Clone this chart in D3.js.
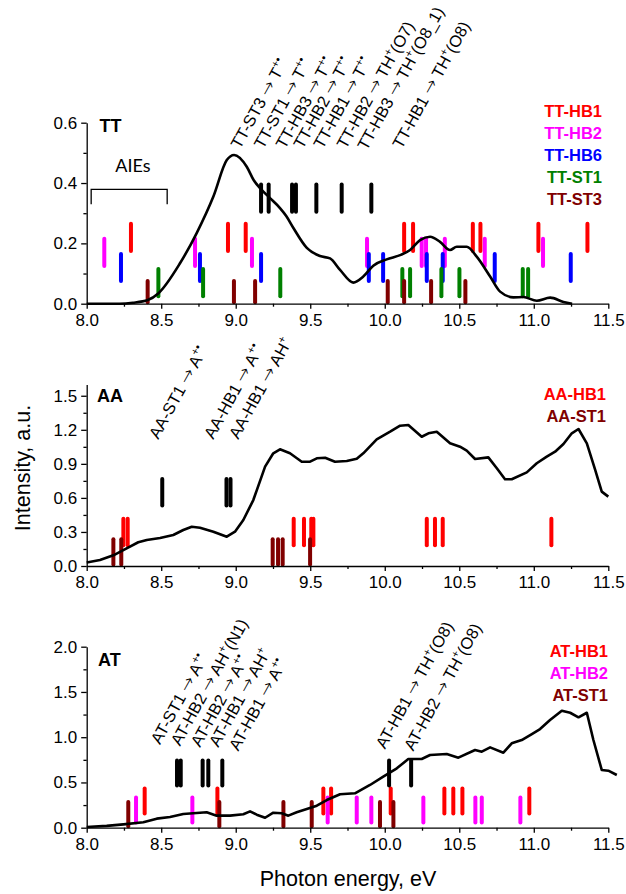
<!DOCTYPE html>
<html><head><meta charset="utf-8">
<script src="https://cdn.jsdelivr.net/npm/d3@7"></script>
<style>body{margin:0;background:#fff}svg{display:block}</style>
</head><body>
<svg id="chart" width="626" height="894"></svg>
<script>
// ---------------- DATA ----------------
const xMajorTicks = [8.0, 8.5, 9.0, 9.5, 10.0, 10.5, 11.0, 11.5];
const xMinorTicks = [8.25, 8.75, 9.25, 9.75, 10.25, 10.75, 11.25];

// TT panel
const ttCurveE = [8.0, 8.22, 8.31, 8.41, 8.48, 8.626, 8.738, 8.85, 8.94, 8.989, 9.074, 9.12, 9.163, 9.23, 9.297, 9.34, 9.387, 9.477, 9.566, 9.633, 9.70, 9.789, 9.856, 9.923, 10.013, 10.103, 10.17, 10.237, 10.304, 10.371, 10.438, 10.483, 10.55, 10.617, 10.707, 10.774, 10.863, 10.93, 11.02, 11.11, 11.199, 11.257];
const ttCurveI = [0.0, 0.0, 0.003, 0.012, 0.034, 0.134, 0.234, 0.355, 0.476, 0.493, 0.454, 0.41, 0.383, 0.35, 0.317, 0.29, 0.251, 0.185, 0.158, 0.150, 0.112, 0.07, 0.09, 0.126, 0.147, 0.161, 0.178, 0.211, 0.222, 0.205, 0.178, 0.189, 0.189, 0.156, 0.09, 0.04, 0.021, 0.022, 0.01, 0.02, 0.006, 0.0];
const ttHB1 = [8.297, 8.948, 9.067, 10.130, 10.190, 10.591, 10.642, 11.031, 11.360];
const ttHB2 = [8.118, 8.727, 9.109, 9.881, 10.248, 10.277, 10.403, 10.671, 11.062];
const ttHB6 = [8.230, 8.760, 9.170, 9.893, 9.989, 10.282, 10.389, 10.738, 11.248];
const ttST1 = [8.481, 8.781, 9.299, 10.118, 10.170, 10.380, 10.501, 10.926, 10.962];
const ttST3 = [8.409, 8.988, 9.130, 10.020, 10.130, 10.311, 10.541];
const ttIE  = [9.170, 9.221, 9.378, 9.404, 9.541, 9.711, 9.910];
const ttLabels = ["TT-ST3 → T^{+•}", "TT-ST1 → T^{+•}", "TT-HB3 → T^{+•}", "TT-HB2 → T^{+•}", "TT-HB1 → T^{+•}", "TT-HB2 → TH^{+}(O7)", "TT-HB3 → TH^{+}(O8_1)", "TT-HB1 → TH^{+}(O8)"];
const ttLabelE = [9.029, 9.185, 9.331, 9.45, 9.584, 9.74, 9.879, 10.114];
const ttLabelI = [0.51, 0.51, 0.51, 0.51, 0.51, 0.51, 0.505, 0.51];

// AA panel
const aaCurveE = [8.0, 8.089, 8.179, 8.268, 8.346, 8.403, 8.492, 8.581, 8.648, 8.705, 8.76, 8.85, 8.94, 8.995, 9.051, 9.118, 9.197, 9.252, 9.297, 9.364, 9.443, 9.499, 9.544, 9.60, 9.666, 9.745, 9.812, 9.856, 9.946, 10.036, 10.103, 10.158, 10.248, 10.293, 10.349, 10.438, 10.505, 10.55, 10.606, 10.695, 10.752, 10.807, 10.852, 10.953, 11.02, 11.087, 11.143, 11.199, 11.255, 11.30, 11.356, 11.412, 11.456, 11.50];
const aaCurveI = [0.03, 0.053, 0.094, 0.156, 0.209, 0.229, 0.247, 0.273, 0.317, 0.346, 0.337, 0.302, 0.258, 0.302, 0.405, 0.581, 0.875, 0.993, 1.028, 0.993, 0.919, 0.919, 0.949, 0.954, 0.919, 0.925, 0.945, 0.993, 1.116, 1.183, 1.236, 1.242, 1.139, 1.169, 1.183, 1.081, 1.051, 1.016, 0.943, 0.957, 0.861, 0.764, 0.764, 0.825, 0.905, 0.963, 1.007, 1.075, 1.169, 1.207, 1.081, 0.846, 0.655, 0.611];
const aaHB1 = [8.246, 8.275, 9.389, 9.458, 9.507, 9.521, 10.282, 10.337, 10.389, 11.118];
const aaST1 = [8.179, 8.232, 9.248, 9.284, 9.315, 9.499];
const aaIE  = [8.507, 8.938, 8.965];
const aaLabels = ["AA-ST1 → A^{+•}", "AA-HB1 → A^{+•}", "AA-HB1 → AH^{+}"];
const aaLabelE = [8.48, 8.85, 9.017];
const aaLabelI = [1.11, 1.11, 1.11];

// AT panel
const atCurveE = [8.0, 8.134, 8.246, 8.38, 8.47, 8.559, 8.648, 8.715, 8.805, 8.872, 8.962, 9.051, 9.096, 9.141, 9.197, 9.252, 9.309, 9.353, 9.409, 9.477, 9.544, 9.611, 9.70, 9.80, 9.901, 9.99, 10.081, 10.158, 10.248, 10.304, 10.416, 10.494, 10.606, 10.651, 10.707, 10.796, 10.852, 10.919, 10.987, 11.042, 11.109, 11.188, 11.244, 11.30, 11.356, 11.40, 11.456, 11.50, 11.557];
const atCurveI = [0.008, 0.02, 0.037, 0.06, 0.10, 0.118, 0.151, 0.159, 0.17, 0.133, 0.133, 0.148, 0.181, 0.144, 0.11, 0.166, 0.159, 0.133, 0.17, 0.206, 0.243, 0.306, 0.37, 0.38, 0.472, 0.564, 0.656, 0.759, 0.759, 0.803, 0.814, 0.774, 0.859, 0.84, 0.888, 0.829, 0.932, 0.969, 1.035, 1.09, 1.19, 1.293, 1.27, 1.22, 1.27, 0.969, 0.638, 0.63, 0.582];
const atHB1 = [8.389, 8.877, 9.588, 9.640, 10.040, 10.400, 10.460, 10.521, 10.970];
const atHB2 = [8.331, 8.709, 9.617, 9.812, 9.910, 10.259, 10.608, 10.651, 10.910];
const atST1 = [8.279, 8.890, 9.320, 9.510, 9.968, 10.058];
const atIE  = [8.606, 8.631, 8.778, 8.816, 8.910, 10.029, 10.177];
const atLabels = ["AT-ST1 → A^{+•}", "AT-HB2 → AH^{+}(N1)", "AT-HB2 → A^{+•}", "AT-HB1 → AH^{+}", "AT-HB1 → A^{+•}", "AT-HB1 → TH^{+}(O8)", "AT-HB2 → TH^{+}(O8)"];
const atLabelE = [8.492, 8.626, 8.76, 8.883, 9.017, 10.002, 10.192];
const atLabelI = [0.91, 0.895, 0.88, 0.88, 0.84, 0.86, 0.84];

// ---------------- DRAW ----------------
const COL = {red: "#ff0000", magenta: "#ff00ff", blue: "#0000ff", green: "#008000", dark: "#800000", black: "#000000"};
const FONT = "'Liberation Sans', Arial, sans-serif";
const svg = d3.select("#chart");
const x = d3.scaleLinear().domain([8, 11.5]).range([86.7, 608.3]);

const panels = [
  { name: "TT", top: 122.7, bottom: 303.7, ymax: 0.6, yMajor: [0, 0.2, 0.4, 0.6], yMinor: [0.1, 0.3, 0.5], fmt: d3.format(".1f"),
    curveE: ttCurveE, curveI: ttCurveI, smooth: true,
    sticks: [
      {e: ttHB1, c: COL.red, lo: 0.17, hi: 0.27},
      {e: ttHB2, c: COL.magenta, lo: 0.12, hi: 0.22},
      {e: ttHB6, c: COL.blue, lo: 0.07, hi: 0.17},
      {e: ttST1, c: COL.green, lo: 0.02, hi: 0.12},
      {e: ttST3, c: COL.dark, lo: 0.0, hi: 0.08},
      {e: ttIE, c: COL.black, lo: 0.30, hi: 0.40}],
    legend: [["TT-HB1", COL.red], ["TT-HB2", COL.magenta], ["TT-HB6", COL.blue], ["TT-ST1", COL.green], ["TT-ST3", COL.dark]],
    legendX: 602, legendY: 117.3,
    labels: ttLabels, labelE: ttLabelE, labelI: ttLabelI, tag: [99.5, 132] },
  { name: "AA", top: 384.4, bottom: 566, ymax: 1.6, yMajor: [0, 0.3, 0.6, 0.9, 1.2, 1.5], yMinor: [0.15, 0.45, 0.75, 1.05, 1.35], fmt: d3.format(".1f"),
    curveE: aaCurveE, curveI: aaCurveI, smooth: false,
    sticks: [
      {e: aaHB1, c: COL.red, lo: 0.17, hi: 0.43},
      {e: aaST1, c: COL.dark, lo: 0.0, hi: 0.25},
      {e: aaIE, c: COL.black, lo: 0.52, hi: 0.78}],
    legend: [["AA-HB1", COL.red], ["AA-ST1", COL.dark]],
    legendX: 606, legendY: 400,
    labels: aaLabels, labelE: aaLabelE, labelI: aaLabelI, tag: [97, 401.7] },
  { name: "AT", top: 646.7, bottom: 827.7, ymax: 2.0, yMajor: [0, 0.5, 1.0, 1.5, 2.0], yMinor: [0.25, 0.75, 1.25, 1.75], fmt: d3.format(".1f"),
    curveE: atCurveE, curveI: atCurveI, smooth: false,
    sticks: [
      {e: atHB1, c: COL.red, lo: 0.14, hi: 0.45},
      {e: atHB2, c: COL.magenta, lo: 0.04, hi: 0.35},
      {e: atST1, c: COL.dark, lo: 0.0, hi: 0.30},
      {e: atIE, c: COL.black, lo: 0.45, hi: 0.76}],
    legend: [["AT-HB1", COL.red], ["AT-HB2", COL.magenta], ["AT-ST1", COL.dark]],
    legendX: 608, legendY: 656.7,
    labels: atLabels, labelE: atLabelE, labelI: atLabelI, tag: [98, 666] }
];

function richText(sel, str) {
  // parse "^{...}" into superscripts; arrows drawn with a wider, light glyph
  const parts = str.split(/(\^\{[^}]*\}|→)/).filter(s => s.length);
  let up = false;
  parts.forEach(p => {
    let t;
    if (p.startsWith("^{")) {
      t = sel.append("tspan").attr("dy", -7).attr("font-size", "11px").text(p.slice(2, -1));
      up = true;
      return;
    } else if (p === "→") {
      t = sel.append("tspan").attr("font-family", "'DejaVu Sans', sans-serif")
        .attr("font-weight", 200).attr("font-size", "18px").text(p);
    } else {
      t = sel.append("tspan").text(p);
    }
    if (up) { t.attr("dy", 7); up = false; }
  });
}

panels.forEach(p => {
  const y = d3.scaleLinear().domain([0, p.ymax]).range([p.bottom, p.top]);
  const g = svg.append("g");

  // sticks
  p.sticks.forEach(s => {
    g.selectAll(null).data(s.e).enter().append("line")
      .attr("x1", d => x(d)).attr("x2", d => x(d))
      .attr("y1", y(s.lo) - 1.5).attr("y2", y(s.hi) + 1.5)
      .attr("stroke", s.c).attr("stroke-width", 4).attr("stroke-linecap", "round");
  });

  // curve
  const pts = p.curveE.map((e, i) => [e, p.curveI[i]]);
  const line = d3.line().x(d => x(d[0])).y(d => y(d[1]))
    .curve(p.smooth ? d3.curveMonotoneX : d3.curveLinear);
  g.append("path").datum(pts).attr("d", line)
    .attr("fill", "none").attr("stroke", "#000").attr("stroke-width", 2.6).attr("stroke-linejoin", "round");

  // axes
  g.append("g").attr("transform", `translate(0,${p.bottom})`)
    .call(d3.axisBottom(x).tickValues(xMajorTicks).tickFormat(d3.format(".1f")).tickSize(5).tickSizeOuter(0).tickPadding(5));
  g.append("g").attr("transform", `translate(0,${p.bottom})`)
    .call(d3.axisBottom(x).tickValues(xMinorTicks).tickFormat("").tickSize(3).tickSizeOuter(0))
    .select(".domain").remove();
  g.append("g").attr("transform", `translate(${x(8)},0)`)
    .call(d3.axisLeft(y).tickValues(p.yMajor).tickFormat(p.fmt).tickSize(5.5).tickSizeOuter(0).tickPadding(4));
  g.append("g").attr("transform", `translate(${x(8)},0)`)
    .call(d3.axisLeft(y).tickValues(p.yMinor).tickFormat("").tickSize(3.3).tickSizeOuter(0))
    .select(".domain").remove();
  g.selectAll(".domain, .tick line").attr("stroke", "#000").attr("stroke-width", 1.3);
  g.selectAll(".tick text").attr("font-family", FONT).attr("font-size", "17px").attr("fill", "#000");

  // panel tag
  g.append("text").attr("x", p.tag[0]).attr("y", p.tag[1]).text(p.name)
    .attr("font-family", FONT).attr("font-weight", "bold").attr("font-size", "18px");

  // legend
  p.legend.forEach((l, i) => {
    g.append("text").attr("x", p.legendX).attr("y", p.legendY + i * 22).attr("text-anchor", "end")
      .attr("font-family", FONT).attr("font-weight", "bold").attr("font-size", "16.5px")
      .attr("fill", l[1]).text(l[0]);
  });

  // annotations
  p.labels.forEach((lab, i) => {
    const px = x(p.labelE[i]), py = y(p.labelI[i]);
    const t = g.append("text").attr("transform", `translate(${px},${py}) rotate(-61)`)
      .attr("font-family", FONT).attr("font-size", "16.5px").attr("fill", "#000");
    richText(t, lab);
  });

  // AIEs bracket for TT
  if (p.name === "TT") {
    const aie = [8.03, 8.54];
    g.append("path").attr("d", `M${x(aie[0])},${y(0.33)}V${y(0.379)}H${x(aie[1])}V${y(0.33)}`)
      .attr("fill", "none").attr("stroke", "#000").attr("stroke-width", 1.3);
    g.append("text").attr("x", x(8.31)).attr("y", y(0.437)).attr("text-anchor", "middle")
      .attr("font-family", "Lato, 'Open Sans', sans-serif").attr("font-size", "18px").text("AIEs");
  }
});

// axis titles
svg.append("text").attr("x", 348).attr("y", 886).attr("text-anchor", "middle")
  .attr("font-family", FONT).attr("font-size", "21.5px").text("Photon energy, eV");
svg.append("text").attr("transform", "translate(29.5,468) rotate(-90)").attr("text-anchor", "middle")
  .attr("font-family", FONT).attr("font-size", "21.5px").text("Intensity, a.u.");
</script>
</body></html>
